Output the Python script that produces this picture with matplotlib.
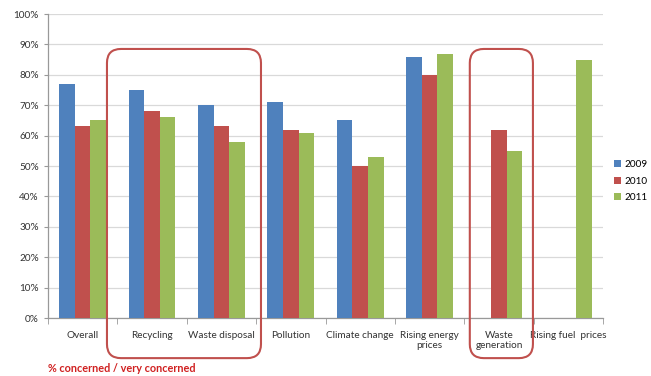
import numpy as np
import matplotlib.pyplot as plt
from matplotlib.patches import FancyBboxPatch
from matplotlib.ticker import FuncFormatter, MultipleLocator

# Data
categories = ['Overall', 'Recycling', 'Waste disposal', 'Pollution', 'Climate change',
              'Rising energy\nprices', 'Waste\ngeneration', 'Rising fuel  prices']
years = ['2009', '2010', '2011']
v2009 = [77, 75, 70, 71, 65, 86, np.nan, np.nan]
v2010 = [63, 68, 63, 62, 50, 80, 62, np.nan]
v2011 = [65, 66, 58, 61, 53, 87, 55, 85]
colors = ['#4F81BD', '#C0504D', '#9BBB59']

plt.rcParams['font.family'] = ['Lato', 'DejaVu Sans']

fig = plt.figure(figsize=(6.51, 3.76), dpi=100)
ax = fig.add_axes([48 / 651, 58 / 376, 555 / 651, 304 / 376])

x = np.arange(len(categories))
w = 0.225
for i, (vals, c, lab) in enumerate(zip([v2009, v2010, v2011], colors, years)):
    ax.bar(x + (i - 1) * w, vals, w, color=c, label=lab, zorder=3)

ax.set_xlim(-0.5, len(categories) - 0.5)
ax.set_ylim(0, 100)
ax.yaxis.set_major_locator(MultipleLocator(10))
ax.yaxis.set_major_formatter(FuncFormatter(lambda v, p: f'{v:.0f}%'))
ax.grid(axis='y', color='#D9D9D9', linewidth=0.9, zorder=0)

ax.set_xticks(x)
ax.set_xticklabels(categories, fontsize=7.2, color='#333333')
ax.set_xticks(np.arange(-0.5, len(categories)), minor=True)
ax.tick_params(axis='x', which='major', length=0, pad=9)
ax.tick_params(axis='x', which='minor', length=4, color='#999999')
ax.tick_params(axis='y', length=3, color='#999999', labelsize=7.2, labelcolor='#333333')

for s in ['top', 'right']:
    ax.spines[s].set_visible(False)
for s in ['left', 'bottom']:
    ax.spines[s].set_color('#999999')
    ax.spines[s].set_linewidth(0.9)

ax.legend(loc='center left', bbox_to_anchor=(1.0, 0.45), frameon=False, fontsize=7.2,
          handlelength=0.7, handleheight=0.7, handletextpad=0.35, labelspacing=0.75,
          borderpad=0.2, borderaxespad=0.9)

# Highlight boxes (drawn in display pixels so corners stay round)
def highlight(x0, x1, y0, y1):
    (px0, py0) = ax.transData.transform((x0, y0))
    (px1, py1) = ax.transData.transform((x1, y1))
    box = FancyBboxPatch((px0, py0), px1 - px0, py1 - py0,
                         boxstyle='round,pad=0,rounding_size=14',
                         transform=None, fill=False, edgecolor='#C0504D',
                         linewidth=1.5, clip_on=False, zorder=5)
    fig.patches.append(box)

highlight(0.35, 2.57, -13.2, 88.5)
highlight(5.58, 6.49, -13.2, 88.5)

fig.text(48 / 651, 1 - 369 / 376, '% concerned / very concerned', color='#D02020',
         fontsize=7.8, fontweight='bold', va='center')

fig.savefig('out.png', dpi=100)
